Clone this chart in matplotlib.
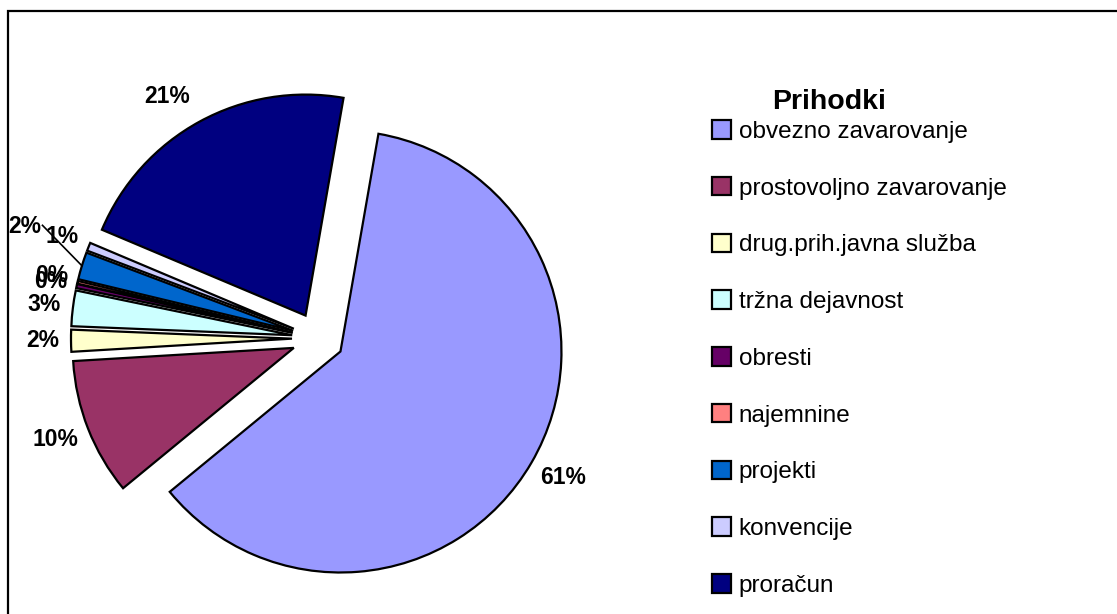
import matplotlib
matplotlib.use("Agg")
import matplotlib.pyplot as plt
import numpy as np

plt.rcParams['font.family'] = ['Liberation Sans', 'DejaVu Sans']

# ---- data ----
categories = ["obvezno zavarovanje", "prostovoljno zavarovanje", "drug.prih.javna služba",
              "tržna dejavnost", "obresti", "najemnine", "projekti", "konvencije", "proračun"]
values = [61.3, 10.0, 1.6, 2.6, 0.3, 0.2, 2.0, 0.6, 21.4]
colors = ["#9999FF", "#993366", "#FFFFCC", "#CCFFFF", "#660066",
          "#FF8080", "#0066CC", "#CCCCFF", "#000080"]
legend_title = "Prihodki"

# ---- layout (pixels, y up) ----
W, H = 1117, 614
center = (318, H - 338.4)
radius = 221
explode_px = 26          # matplotlib's explode is in data units (pixels here)
start_angle = 80.1
label_shift = {0: (7, 0), 1: (-6, 0), 8: (-19, 0), 6: (-30, 31), 4: (2, -2), 5: (2, 0)}
leader_for = 6

fig = plt.figure(figsize=(W / 100, H / 100), dpi=100)
ax = fig.add_axes([0, 0, 1, 1])

wedges, texts, autotexts = ax.pie(
    values, colors=colors, explode=[explode_px] * len(values),
    startangle=start_angle, counterclock=False, center=center, radius=radius,
    autopct=lambda p: f"{p:.0f}%", pctdistance=1.13,
    wedgeprops=dict(edgecolor="black", linewidth=1.6),
    textprops=dict(fontsize=16.5, fontweight="bold", color="black"),
)
ax.set_xlim(0, W)
ax.set_ylim(0, H)
ax.set_aspect('auto')
ax.axis('off')

for i, t in enumerate(autotexts):
    if i in label_shift:
        x, y = t.get_position()
        dx, dy = label_shift[i]
        t.set_position((x + dx, y + dy))

# leader line for the moved small label
w = wedges[leader_for]
mid = np.deg2rad((w.theta1 + w.theta2) / 2)
cx, cy = w.center
end = (cx + radius * np.cos(mid), cy + radius * np.sin(mid))
lx, ly = autotexts[leader_for].get_position()
ax.plot([lx + 18, end[0]], [ly + 1, end[1]], color="black", lw=1.2)

# outer frame (extends beyond the image at right and bottom)
ax.plot([7.5, 7.5, W + 20], [-20, H - 10.5, H - 10.5], color="black", lw=1.6,
        clip_on=False, solid_joinstyle="miter")

# legend
fig.legend(wedges, categories, loc="upper left",
           bbox_to_anchor=(712 / W, (H - 120) / H), frameon=False,
           fontsize=17.5, handlelength=0.8, handleheight=0.8,
           handletextpad=0.3, labelspacing=1.4, borderpad=0, borderaxespad=0)
ax.text(829.5, H - 102, legend_title, ha="center", va="center",
        fontsize=20.5, fontweight="bold")

fig.savefig("out.png", dpi=100)
